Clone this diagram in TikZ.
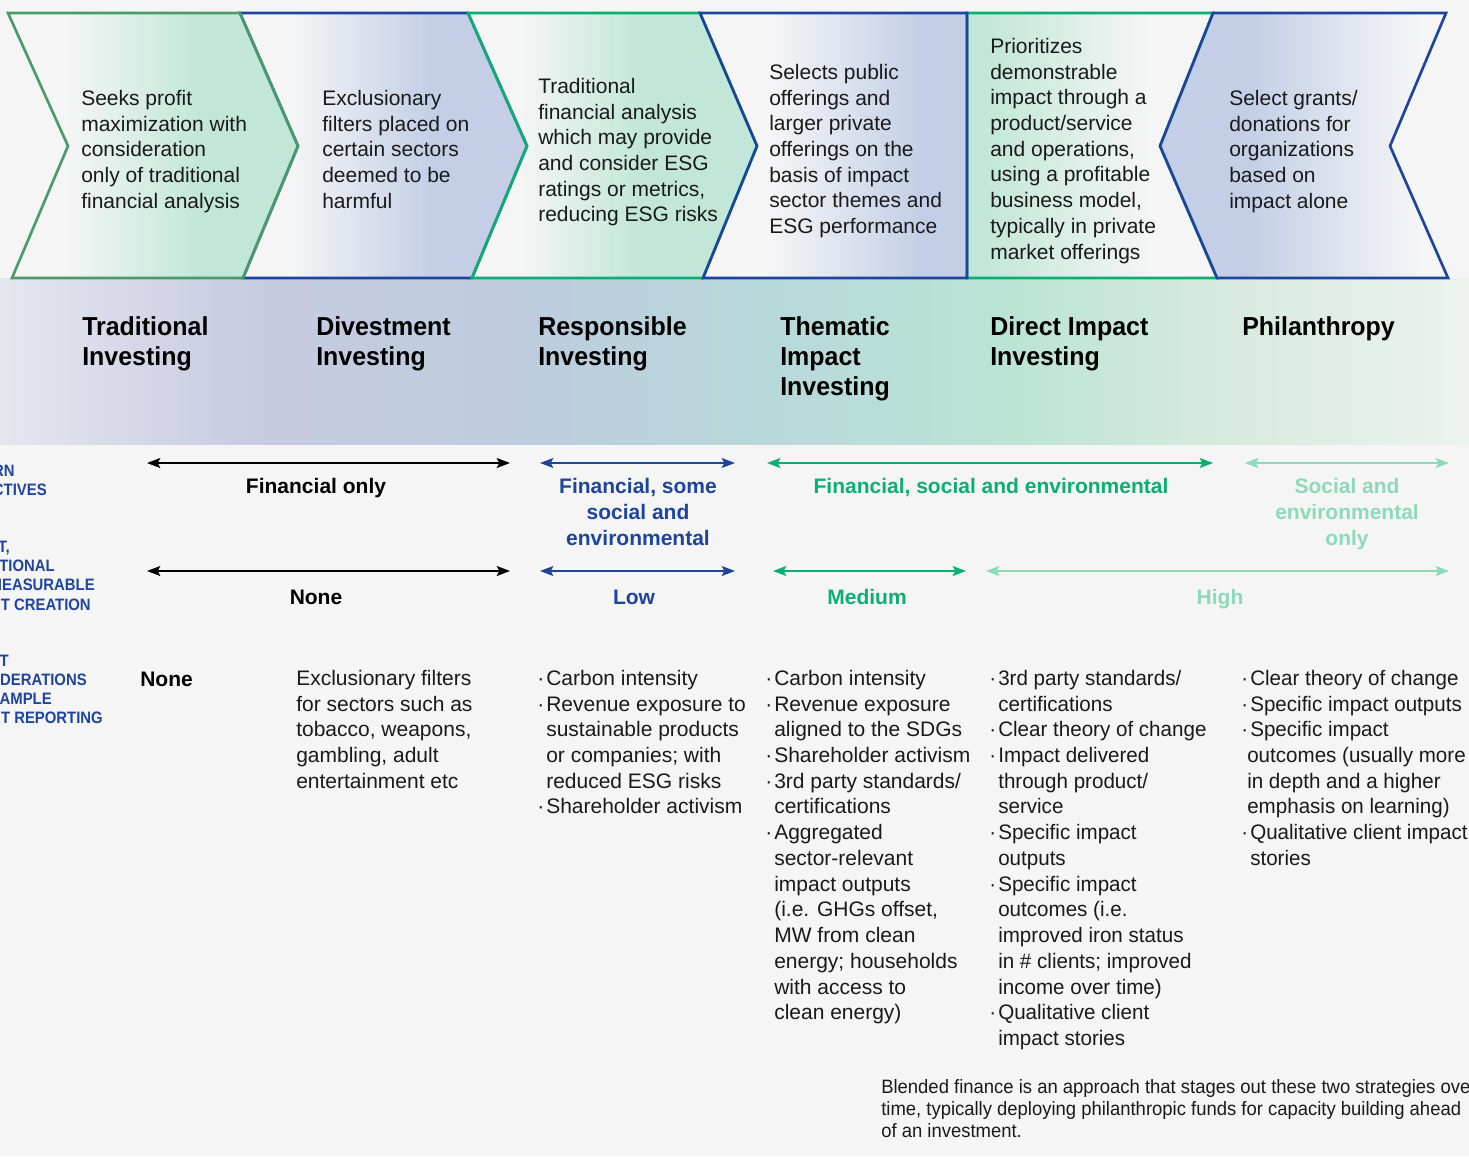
\documentclass[tikz,border=0pt]{standalone}
\usepackage{fontspec}
\setmainfont{Liberation Sans}
\newfontfamily\labfont{Liberation Sans}[FakeStretch=0.9]
\newfontfamily\headfont{Liberation Sans}[FakeStretch=0.96]
\newfontfamily\narfont{Liberation Sans}[FakeStretch=0.98]
\newfontfamily\notefont{Liberation Sans}[FakeStretch=0.955]
\usetikzlibrary{arrows.meta}
\definecolor{bgc}{HTML}{F5F5F5}
\definecolor{mint}{HTML}{C2E7D9}
\definecolor{lav}{HTML}{C4CFE7}
\definecolor{navy}{HTML}{1E449D}
\definecolor{gdark}{HTML}{4A9B6B}
\definecolor{gbright}{HTML}{0DAE72}
\definecolor{glight}{HTML}{8DD9BC}
\definecolor{ink}{HTML}{1A1A1A}
\definecolor{bA}{HTML}{E6E6EE}
\definecolor{bB}{HTML}{C8CBE2}
\definecolor{bC}{HTML}{BDCCDE}
\definecolor{bD}{HTML}{B8D8DA}
\definecolor{bE}{HTML}{BAE4D5}
\definecolor{bF}{HTML}{D4E9DE}
\definecolor{bG}{HTML}{EDF2EE}
\newcommand\fst{\rule{0pt}{15pt}}
\newcommand\hst{\rule{0pt}{19pt}}
\newcommand\nst{\rule{0pt}{14pt}}
\newcommand\bul{\llap{·\hspace{1.5pt}}}
\newcommand\pbul{\hspace*{2.25pt}\llap{·\hspace{1.5pt}}}
\begin{document}
\begin{tikzpicture}[x=0.75pt,y=-0.75pt,
  body/.style={font=\fontsize{15.75pt}{19.3pt}\selectfont, text=ink, inner sep=0pt, align=left, anchor=north west},
  head/.style={font=\headfont\fontsize{19.5pt}{22.5pt}\selectfont\bfseries, text=black, inner sep=0pt, align=left, anchor=north west},
  lab/.style={font=\fontsize{15.75pt}{19.5pt}\selectfont\bfseries, inner sep=0pt, align=center, anchor=north},
  labone/.style={font=\fontsize{15.75pt}{19.5pt}\selectfont\bfseries, inner sep=0pt, anchor=base},
  side/.style={font=\labfont\fontsize{12.4pt}{14pt}\selectfont\bfseries, text=navy, inner sep=0pt, anchor=base east},
  dbl/.style={line width=1.2pt, {Stealth[length=10pt,width=7.5pt,inset=2pt]}-{Stealth[length=10pt,width=7.5pt,inset=2pt]}},
  chv/.style={line width=2pt, line join=miter},
  note/.style={font=\notefont\fontsize{14.5pt}{16.5pt}\selectfont, text=ink, inner sep=0pt, align=left, anchor=north west}]
\useasboundingbox (0,0) rectangle (1469,1156);
\fill[bgc] (0,0) rectangle (1469,1156);
% band
\shade[left color=bA,right color=bB] (0,278) rectangle (251,444);
\shade[left color=bB,right color=bC] (250,278) rectangle (521,444);
\shade[left color=bC,right color=bD] (520,278) rectangle (761,444);
\shade[left color=bD,right color=bE] (760,278) rectangle (1001,444);
\shade[left color=bE,right color=bF] (1000,278) rectangle (1201,444);
\shade[left color=bF,right color=bG] (1200,278) rectangle (1469,444);
% chevron fills
\begin{scope}
\clip (240,13) -- (468,13) -- (527,146) -- (472,278) -- (243,278) -- (298,146) -- cycle;
\fill[bgc] (230,0) rectangle (300,290);
\shade[left color=bgc,right color=lav] (290,0) rectangle (430,290);
\fill[lav] (429,0) rectangle (530,290);
\end{scope}
\begin{scope}
\clip (8,13) -- (240,13) -- (298,146) -- (243,278) -- (12,278) -- (68,146) -- cycle;
\fill[bgc] (0,0) rectangle (66,290);
\shade[left color=bgc,right color=mint] (65,0) rectangle (200,290);
\fill[mint] (199,0) rectangle (300,290);
\end{scope}
\begin{scope}
\clip (468,13) -- (700,13) -- (757,146) -- (703,278) -- (472,278) -- (527,146) -- cycle;
\fill[bgc] (460,0) rectangle (521,290);
\shade[left color=bgc,right color=mint] (520,0) rectangle (640,290);
\fill[mint] (639,0) rectangle (760,290);
\end{scope}
\begin{scope}
\clip (700,13) -- (967,13) -- (967,278) -- (703,278) -- (757,146) -- cycle;
\fill[bgc] (700,0) rectangle (771,290);
\shade[left color=bgc,right color=lav] (770,0) rectangle (920,290);
\fill[lav] (919,0) rectangle (970,290);
\end{scope}
\begin{scope}
\clip (967,13) -- (1213,13) -- (1160,146) -- (1217,278) -- (967,278) -- cycle;
\fill[mint] (960,0) rectangle (986,290);
\shade[left color=mint,right color=bgc] (985,0) rectangle (1150,290);
\fill[bgc] (1149,0) rectangle (1220,290);
\end{scope}
\begin{scope}
\clip (1213,13) -- (1446,13) -- (1390,146) -- (1448,278) -- (1217,278) -- (1160,146) -- cycle;
\fill[lav] (1155,0) rectangle (1251,290);
\shade[left color=lav,right color=bgc] (1250,0) rectangle (1420,290);
\fill[bgc] (1419,0) rectangle (1450,290);
\end{scope}
% chevron outlines
\draw[chv,navy] (240,13) -- (468,13) -- (527,146) -- (472,278) -- (243,278) -- (298,146) -- cycle;
\draw[chv,gdark] (8,13) -- (240,13) -- (298,146) -- (243,278) -- (12,278) -- (68,146) -- cycle;
\draw[chv,gbright] (468,13) -- (700,13) -- (757,146) -- (703,278) -- (472,278) -- (527,146) -- cycle;
\draw[chv,gbright] (967,13) -- (1213,13) -- (1160,146) -- (1217,278) -- (967,278) -- cycle;
\draw[chv,navy] (700,13) -- (967,13) -- (967,278) -- (703,278) -- (757,146) -- cycle;
\draw[chv,navy] (1213,13) -- (1446,13) -- (1390,146) -- (1448,278) -- (1217,278) -- (1160,146) -- cycle;
% chevron texts
\node[body] (t1) at (81,85) {\fst Seeks profit\\maximization with\\consideration\\only of traditional\\financial analysis};
\node[body] (t2) at (322,85) {\fst Exclusionary\\filters placed on\\certain sectors\\deemed to be\\harmful};
\node[body] (t3) at (538,73) {\fst Traditional\\financial analysis\\which may provide\\and consider ESG\\ratings or metrics,\\reducing ESG risks};
\node[body] (t4) at (769,59) {\fst Selects public\\offerings and\\larger private\\offerings on the\\basis of impact\\sector themes and\\ESG performance};
\node[body] (t5) at (990,33) {\fst Prioritizes\\demonstrable\\impact through a\\product/service\\and operations,\\using a profitable\\business model,\\typically in private\\market offerings};
\node[body] (t6) at (1229,85) {\fst Select grants/\\donations for\\organizations\\based on\\impact alone};
% headers
\node[head] (h1) at (82,309.7) {\hst Traditional\\Investing};
\node[head] (h2) at (316,309.7) {\hst Divestment\\Investing};
\node[head] (h3) at (538,309.7) {\hst Responsible\\Investing};
\node[head] (h4) at (780,309.7) {\hst Thematic\\Impact\\Investing};
\node[head] (h5) at (990,309.7) {\hst Direct Impact\\Investing};
\node[head] (h6) at (1242,309.7) {\hst Philanthropy};
% side labels (cut at the left edge)
\node[side] (s1) at (15,476) {RN};
\node[side] (s2) at (47,495) {CTIVES};
\node[side] (s3) at (10,552) {T,};
\node[side] (s4) at (55,571) {TIONAL};
\node[side] (s5) at (95,590) {MEASURABLE};
\node[side] (s6) at (91,610) {T CREATION};
\node[side] (s7) at (9,666) {T};
\node[side] (s8) at (87,685) {DERATIONS};
\node[side] (s9) at (52,704) {AMPLE};
\node[side] (s10) at (103,723) {T REPORTING};
% arrow row 1
\coordinate (a1l) at (147,463); \coordinate (a1r) at (510,463);
\coordinate (a2l) at (540,463); \coordinate (a2r) at (735,463);
\coordinate (a3l) at (767,463); \coordinate (a3r) at (1213,463);
\coordinate (a4l) at (1245,463); \coordinate (a4r) at (1449,463);
\draw[dbl,black] (a1l) -- (a1r);
\draw[dbl,navy] (a2l) -- (a2r);
\draw[dbl,gbright] (a3l) -- (a3r);
\draw[dbl,glight] (a4l) -- (a4r);
\node[lab,text=black] (l1) at (316,473) {\fst Financial only};
\node[lab,text=navy] (l2) at (638,473) {\fst Financial, some\\social and\\environmental};
\node[lab,text=gbright] (l3) at (991,473) {\fst Financial, social and environmental};
\node[lab,text=glight] (l4) at (1347,473) {\fst Social and\\environmental\\only};
% arrow row 2
\coordinate (b1l) at (147,571); \coordinate (b1r) at (510,571);
\coordinate (b2l) at (540,571); \coordinate (b2r) at (735,571);
\coordinate (b3l) at (773,571); \coordinate (b3r) at (966,571);
\coordinate (b4l) at (986,571); \coordinate (b4r) at (1449,571);
\draw[dbl,black] (b1l) -- (b1r);
\draw[dbl,navy] (b2l) -- (b2r);
\draw[dbl,gbright] (b3l) -- (b3r);
\draw[dbl,glight] (b4l) -- (b4r);
\node[labone,text=black] (m1) at (316,604) {None};
\node[labone,text=navy] (m2) at (634,604) {Low};
\node[labone,text=gbright] (m3) at (867,604) {Medium};
\node[labone,text=glight] (m4) at (1220,604) {High};
% row 3
\node[labone,anchor=base west,text=black] (n1) at (140,686) {None};
\node[body] (c2) at (296,665) {\fst Exclusionary filters\\for sectors such as\\tobacco, weapons,\\gambling, adult\\entertainment etc};
\node[body] (c3) at (546,665) {\fst\bul Carbon intensity\\\bul Revenue exposure to\\sustainable products\\or companies; with\\reduced ESG risks\\\bul Shareholder activism};
\node[body] (c4) at (774,665) {\fst\bul Carbon intensity\\\bul Revenue exposure\\aligned to the SDGs\\\bul Shareholder activism\\\bul 3rd party standards/\\certifications\\\bul Aggregated\\sector-relevant\\impact outputs\\(i.e. GHGs offset,\\MW from clean\\energy; households\\with access to\\clean energy)};
\node[body,font=\narfont\fontsize{15.75pt}{19.3pt}\selectfont] (c5) at (998,665) {\fst\bul 3rd party standards/\\certifications\\\bul Clear theory of change\\\bul Impact delivered\\through product/\\service\\\bul Specific impact\\outputs\\\bul Specific impact\\outcomes (i.e.\\improved iron status\\in \# clients; improved\\income over time)\\\bul Qualitative client\\impact stories};
\node[body,font=\narfont\fontsize{15.75pt}{19.3pt}\selectfont] (c6) at (1247,665) {\fst\pbul Clear theory of change\\\pbul Specific impact outputs\\\pbul Specific impact\\outcomes (usually more\\in depth and a higher\\emphasis on learning)\\\pbul Qualitative client impact\\\hspace*{2.25pt}stories};
% note
\node[note] (nt) at (881,1074.5) {\nst Blended finance is an approach that stages out these two strategies over\\time, typically deploying philanthropic funds for capacity building ahead\\of an investment.};
\end{tikzpicture}
\end{document}
